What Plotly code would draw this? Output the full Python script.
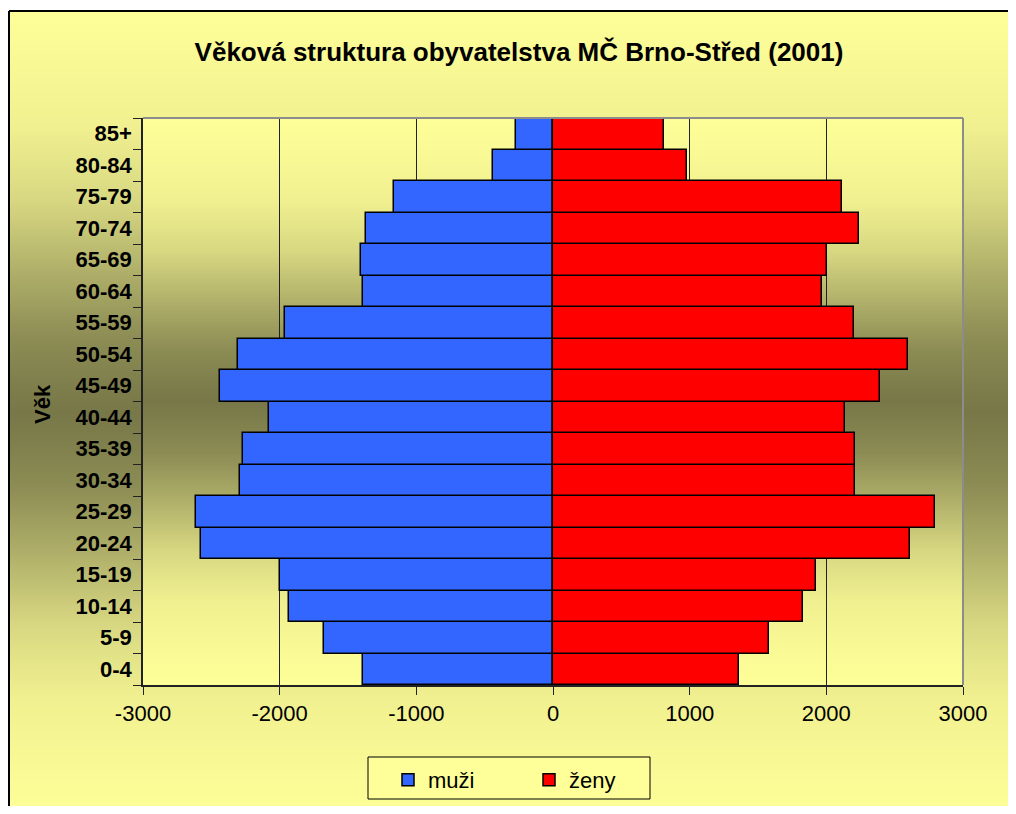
import base64, struct, zlib
import plotly.graph_objects as go

# ---- data ----
age_groups = ["0-4", "5-9", "10-14", "15-19", "20-24", "25-29", "30-34", "35-39",
              "40-44", "45-49", "50-54", "55-59", "60-64", "65-69", "70-74",
              "75-79", "80-84", "85+"]
muzi = [1392, 1673, 1931, 1995, 2576, 2612, 2290, 2266,
        2075, 2434, 2305, 1958, 1389, 1407, 1367, 1160, 437, 273]
zeny = [1363, 1582, 1829, 1927, 2611, 2794, 2212, 2212,
        2135, 2393, 2601, 2201, 1968, 2007, 2242, 2113, 977, 811]
x_ticks = [-3000, -2000, -1000, 0, 1000, 2000, 3000]

# ---- layout geometry ----
# target screen pixels; the page body has an 8px margin, so figure px = screen px - OFF
OFF = 8
W, H = 1008, 798
PL, PR, PT, PB = 143 - OFF, 963 - OFF, 118 - OFF, 685 - OFF
pw, ph = PR - PL, PB - PT

def sx(px):  # screen px -> paper x
    return (px - OFF - PL) / pw

def sy(py):  # screen px -> paper y
    return (PB - (py - OFF)) / ph

LIGHT = (255, 255, 153)
DARK = (119, 119, 72)
SAMPLES = [(0, 0), (0.18, 0.15), (0.355, 0.42), (0.53, 0.71), (0.71, 0.89), (1, 1)]

def shape_f(t):
    for (t0, f0), (t1, f1) in zip(SAMPLES[:-1], SAMPLES[1:]):
        if t <= t1:
            return f0 + (f1 - f0) * (t - t0) / (t1 - t0)
    return 1.0

def gradient_png(height):
    rows = []
    c = (height - 1) / 2
    for i in range(height):
        t = abs(i - c) / c
        f = shape_f(t)
        rows.append(tuple(int(round(d + (l - d) * f)) for l, d in zip(LIGHT, DARK)))
    width = 2
    raw = b"".join(b"\x00" + bytes(rgb) * width for rgb in rows)

    def chunk(tag, data):
        return (struct.pack(">I", len(data)) + tag + data +
                struct.pack(">I", zlib.crc32(tag + data) & 0xFFFFFFFF))

    png = (b"\x89PNG\r\n\x1a\n" +
           chunk(b"IHDR", struct.pack(">IIBBBBB", width, height, 8, 2, 0, 0, 0)) +
           chunk(b"IDAT", zlib.compress(raw)) + chunk(b"IEND", b""))
    return "data:image/png;base64," + base64.b64encode(png).decode()

fig = go.Figure()
fig.add_trace(go.Bar(
    y=age_groups, x=[-v for v in muzi], name="muži", orientation="h",
    marker=dict(color="#3366FF", line=dict(color="black", width=1.5)),
    customdata=muzi, hovertemplate="%{y}: %{customdata}<extra>muži</extra>",
))
fig.add_trace(go.Bar(
    y=age_groups, x=zeny, name="ženy", orientation="h",
    marker=dict(color="#FF0000", line=dict(color="black", width=1.5)),
    hovertemplate="%{y}: %{x}<extra>ženy</extra>",
))

# outer frame gradient (screen 6,11 -> 1016,814) and plot-area gradient
ox0, oy0, ox1, oy1 = 6, 11, 1016, 814
images = [
    dict(source=gradient_png(oy1 - oy0), xref="paper", yref="paper",
         x=sx(OFF), y=sy(oy0), sizex=(ox1 - OFF + 20) / pw, sizey=(oy1 - oy0) / ph,
         sizing="stretch", xanchor="left", yanchor="top", layer="below"),
    dict(source=gradient_png(ph), xref="paper", yref="paper",
         x=0, y=1, sizex=1, sizey=1,
         sizing="stretch", xanchor="left", yanchor="top", layer="below"),
]

left_edge = sx(OFF + 1)
shapes = [
    # outer frame border (top and left)
    dict(type="line", xref="paper", yref="paper", x0=left_edge, x1=sx(ox1 + 20),
         y0=sy(oy0), y1=sy(oy0), line=dict(color="black", width=2)),
    dict(type="line", xref="paper", yref="paper", x0=left_edge, x1=left_edge,
         y0=sy(oy0), y1=sy(oy1), line=dict(color="black", width=2)),
    # plot-area border (top and right, grey)
    dict(type="line", xref="paper", yref="paper", x0=0, x1=1, y0=1, y1=1,
         line=dict(color="#8c8c8c", width=2), layer="above"),
    dict(type="line", xref="paper", yref="paper", x0=1, x1=1, y0=0, y1=1,
         line=dict(color="#8c8c8c", width=2), layer="above"),
    # legend box
    dict(type="rect", xref="paper", yref="paper", x0=sx(368), x1=sx(650),
         y0=sy(757), y1=sy(799), fillcolor="#FFFF99",
         line=dict(color="black", width=1), layer="above"),
]

FONT = "Liberation Sans, Arial, sans-serif"

fig.update_layout(
    width=W, height=H,
    margin=dict(l=PL, r=W - PR, t=PT, b=H - PB, autoexpand=False),
    paper_bgcolor="white",
    plot_bgcolor="rgba(0,0,0,0)",
    barmode="relative",
    bargap=0,
    images=images,
    shapes=shapes,
    font=dict(family=FONT, color="black", size=22),
    title=dict(text="<b>Věková struktura obyvatelstva MČ Brno-Střed (2001)</b>",
               x=(519 - OFF) / W, xanchor="center", y=1 - (52 - OFF) / H, yanchor="middle",
               xref="container", yref="container",
               font=dict(size=26, family=FONT, color="black")),
    showlegend=True,
    legend=dict(orientation="h", x=sx(388), xanchor="left", y=sy(759), yanchor="top",
                bgcolor="rgba(0,0,0,0)", borderwidth=0,
                font=dict(size=22, family=FONT), entrywidth=96, entrywidthmode="pixels",
                traceorder="normal"),
    xaxis=dict(range=[-3000, 3000], tickvals=x_ticks, ticktext=[str(v) for v in x_ticks],
               showgrid=True, gridcolor="#222222", gridwidth=1, automargin=False,
               zeroline=True, zerolinecolor="black", zerolinewidth=1,
               showline=True, linecolor="#222222", linewidth=1.5,
               ticks="outside", ticklen=8, tickcolor="#222222",
               tickfont=dict(size=22, family=FONT), fixedrange=True),
    yaxis=dict(type="category", categoryorder="array", categoryarray=age_groups,
               showgrid=False, showline=True, linecolor="#222222", linewidth=1.5,
               ticks="outside", ticklen=8, tickcolor="#222222", tickson="boundaries",
               ticklabelstandoff=5, automargin=False,
               tickfont=dict(size=22, family=FONT, weight="bold"), fixedrange=True),
    annotations=[dict(text="<b>Věk</b>", textangle=-90, xref="paper", yref="paper",
                      x=sx(42), y=sy(404), xanchor="center", yanchor="middle",
                      showarrow=False, font=dict(size=22, family=FONT, color="black"))],
)

fig.write_html("out.html")
